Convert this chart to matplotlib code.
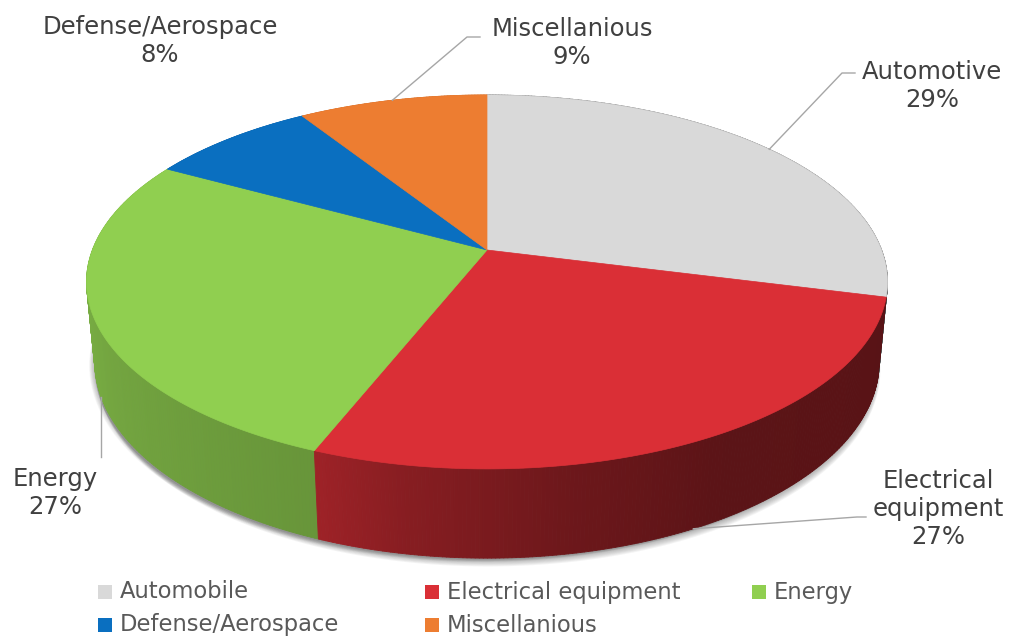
import numpy as np
import matplotlib.pyplot as plt
from matplotlib.patches import Polygon, Rectangle
from matplotlib.collections import PolyCollection

labels = ['Automotive', 'Electrical\nequipment', 'Energy', 'Defense/Aerospace', 'Miscellanious']
legend_names = ['Automobile', 'Electrical equipment', 'Energy', 'Defense/Aerospace', 'Miscellanious']
shares = [29, 27, 27, 8, 9]
colors = ['#d9d9d9', '#da2f36', '#90cf50', '#0a6fc0', '#ed7d31']

# simple perspective camera for the tilted disc (pixel units)
CX, CY = 487, 250
FOCAL = 2052.0
DIST = 5.2
SIN_T, COS_T = 0.46, 0.888
THICK = 0.229


def project(theta, z=0.0, r=1.0):
    u = r * np.sin(theta)
    v = -r * np.cos(theta)
    depth = DIST - (v * COS_T + z * SIN_T)
    ycam = -v * SIN_T + z * COS_T
    return CX + FOCAL * u / depth, CY - FOCAL * ycam / depth


def shade(theta):
    deg = np.degrees(theta) % 360
    return np.interp(deg, [0, 95, 150, 170, 190, 201, 270, 360],
                     [0.40, 0.40, 0.42, 0.50, 0.62, 0.72, 0.86, 0.86])


def darker(color, f):
    c = np.array(plt.matplotlib.colors.to_rgb(color))
    return tuple(c * f)


fig = plt.figure(figsize=(10.27, 6.39), dpi=100)
ax = fig.add_axes([0, 0, 1, 1])
ax.set_xlim(0, 1027)
ax.set_ylim(639, 0)
ax.axis('off')

fracs = np.array(shares) / sum(shares)
edges = np.concatenate([[0], np.cumsum(fracs)]) * 2 * np.pi

# soft shadow under the disc
t = np.linspace(0, 2 * np.pi, 300)
bx, by = project(t, -THICK)
for k in range(8):
    ax.add_patch(Polygon(np.column_stack([bx - 1 + k * 0.3, by + 2 + k * 0.9]), closed=True,
                         facecolor='#444444', edgecolor='none', alpha=0.06, zorder=1))
    ax.add_patch(Polygon(np.column_stack([bx - 2 - k * 0.5, by + 1 + k * 0.4]), closed=True,
                         facecolor='#444444', edgecolor='none', alpha=0.04, zorder=1))

# side walls, far to near
quads, qcols, qdepth = [], [], []
for i in range(len(shares)):
    ts = np.linspace(edges[i], edges[i + 1], max(int(fracs[i] * 720), 4))
    for a, b in zip(ts[:-1], ts[1:]):
        x1, y1 = project(a)
        x2, y2 = project(b)
        x3, y3 = project(b, -THICK)
        x4, y4 = project(a, -THICK)
        quads.append([(x1, y1), (x2, y2), (x3, y3), (x4, y4)])
        qcols.append(darker(colors[i], shade((a + b) / 2)))
        qdepth.append(np.cos((a + b) / 2))
order = np.argsort(qdepth)[::-1]
ax.add_collection(PolyCollection([quads[j] for j in order], facecolors=[qcols[j] for j in order],
                                 edgecolors=[qcols[j] for j in order], linewidths=0.6, zorder=2))

# top faces
for i in range(len(shares)):
    ts = np.linspace(edges[i], edges[i + 1], 200)
    px, py = project(ts)
    pts = np.column_stack([np.r_[CX, px], np.r_[CY, py]])
    ax.add_patch(Polygon(pts, closed=True, facecolor=colors[i], edgecolor=colors[i],
                         linewidth=0.5, zorder=3))

# data labels with leader lines
label_pos = [(932, 86), (938, 509), (55, 493), (160, 41), (572, 43)]
elbows = [(842, 73, 855), (857, 517, 866), None, None, (467, 37, 480)]
for i in range(len(shares)):
    mid = (edges[i] + edges[i + 1]) / 2
    front = np.cos(mid) < 0
    ax.text(label_pos[i][0], label_pos[i][1], f'{labels[i]}\n{shares[i]}%', ha='center', va='center',
            multialignment='center', fontsize=17.5, color='#404040', linespacing=1.2, zorder=5)
    ax0, ay0 = project(mid, -THICK if front else 0.0)
    if elbows[i] is not None:
        ex, ey, hx = elbows[i]
        ax.plot([ax0, ex, hx], [ay0, ey, ey], color='#a6a6a6', lw=1, zorder=4)
    elif labels[i] == 'Energy':
        ax.plot([ax0, ax0], [ay0, 457], color='#a6a6a6', lw=1, zorder=4)

# legend
leg_xy = [(98, 592), (425, 592), (752, 592), (98, 625), (425, 625)]
for i, name in enumerate(legend_names):
    lx, ly = leg_xy[i]
    ax.add_patch(Rectangle((lx, ly - 7), 14, 14, facecolor=colors[i], edgecolor='none', zorder=5))
    ax.text(lx + 22, ly, name, ha='left', va='center', fontsize=16.3, color='#595959', zorder=5)

fig.savefig('out.png', dpi=100)
